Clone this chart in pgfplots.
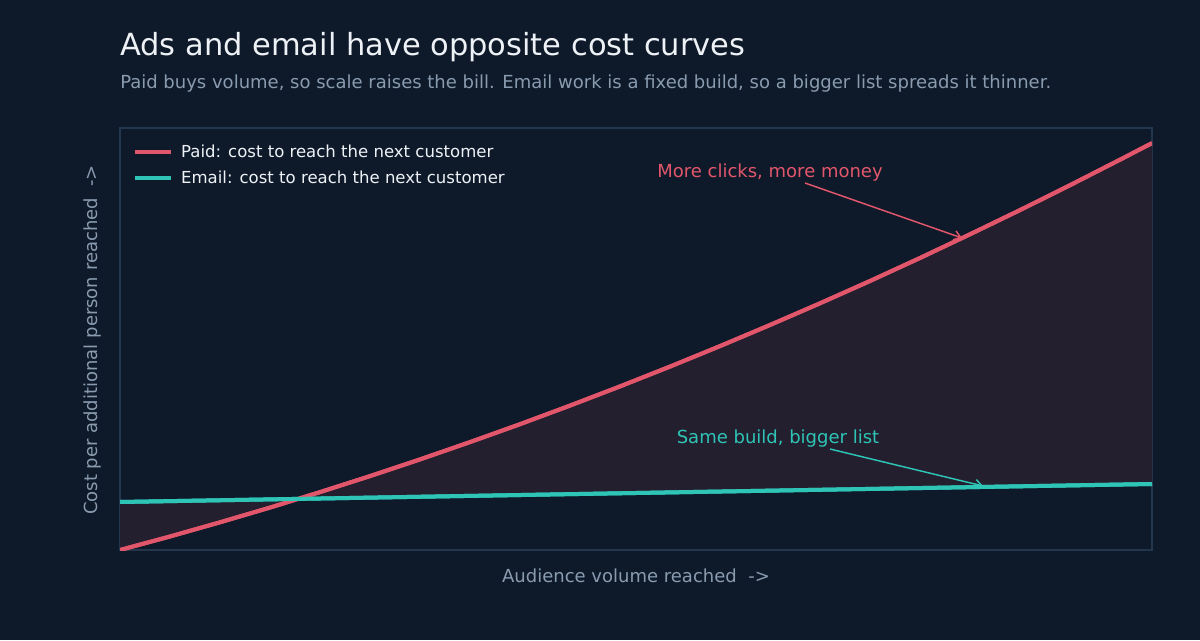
\documentclass[border=0pt]{standalone}
\usepackage{pgfplots}
\pgfplotsset{compat=1.18}
\usepackage{fontspec}
\setmainfont{DejaVu Sans}
\usepgfplotslibrary{fillbetween}
\usetikzlibrary{arrows.meta}

\definecolor{bg}{HTML}{0E1A2A}
\definecolor{titlec}{HTML}{EEF2F6}
\definecolor{subc}{HTML}{8A9BB0}
\definecolor{paidc}{HTML}{E2566B}
\definecolor{emailc}{HTML}{2EC4B6}
\definecolor{gapc}{HTML}{241F2F}
\definecolor{framec}{HTML}{24364B}
\pagecolor{bg}

% x: audience volume (0..1032), y: cost per extra person (0..422)
\pgfplotstableread{
x     paid
0     0
50    13.5
100   27.7
150   42.4
200   57.9
250   73.9
300   90.6
350   107.9
400   125.8
450   144.4
500   163.6
550   183.4
600   203.9
650   225.0
700   246.7
750   269.0
800   292.0
850   315.7
900   339.9
950   364.8
1000  390.3
1032  406.9
}\paiddata
\pgfplotstableread{
x     email
0     48
1032  66
}\emaildata

\begin{document}
\begin{tikzpicture}
\path (0,0) rectangle (900pt,480pt);

\node[anchor=base west, text=titlec, font=\fontsize{22.85}{27}\selectfont, inner sep=0pt]
    at (90pt,438pt) {Ads and email have opposite cost curves};
\node[anchor=base west, text=subc, font=\fontsize{13.5}{16}\selectfont, inner sep=0pt]
    at (90pt,413.25pt) {Paid buys volume, so scale raises the bill. Email work is a fixed build, so a bigger list spreads it thinner.};
\node[text=subc, font=\fontsize{13.5}{16}\selectfont, rotate=90]
    at (69.75pt,225pt) {Cost per additional person reached\ \ ->};
\node[text=subc, font=\fontsize{13.5}{16}\selectfont]
    at (477pt,48pt) {Audience volume reached\ \ ->};

\begin{axis}[
    at={(90pt,67.5pt)}, anchor=south west,
    scale only axis,
    width=774pt, height=316.5pt,
    xmin=0, xmax=1032,
    ymin=0, ymax=422,
    xtick=\empty, ytick=\empty,
    axis line style={draw=framec, line width=0.8pt},
    clip=true,
    legend cell align=left,
    legend style={
        at={(0.008,0.97)}, anchor=north west,
        draw=none, fill=none,
        text=titlec,
        font=\fontsize{12.4}{14}\selectfont,
        row sep=6.5pt,
        nodes={inner xsep=6.5pt, inner ysep=1pt},
    },
    legend image code/.code={
        \draw[#1, line width=3pt] (0pt,0pt) -- (27pt,0pt);
    },
]
\addplot[name path=paid, paidc, line width=3pt] table[x=x, y=paid] {\paiddata};
\addlegendentry{Paid: cost to reach the next customer}
\addplot[name path=email, emailc, line width=3pt] table[x=x, y=email] {\emaildata};
\addlegendentry{Email: cost to reach the next customer}
\addplot[fill=gapc, draw=none, forget plot] fill between[of=paid and email];
\addplot[paidc, line width=3pt, forget plot] table[x=x, y=paid] {\paiddata};
\addplot[emailc, line width=3pt, forget plot] table[x=x, y=email] {\emaildata};

\node[text=paidc, font=\fontsize{13.5}{16}\selectfont] at (axis cs:650,377) {More clicks, more money};
\draw[paidc, line width=1.1pt, -{Straight Barb[length=5pt,width=7pt]}]
    (axis cs:685,367) -- (axis cs:842,312);
\node[text=emailc, font=\fontsize{13.5}{16}\selectfont] at (axis cs:658,111) {Same build, bigger list};
\draw[emailc, line width=1.1pt, -{Straight Barb[length=5pt,width=7pt]}]
    (axis cs:710,101) -- (axis cs:863,64);
\end{axis}
\end{tikzpicture}
\end{document}
